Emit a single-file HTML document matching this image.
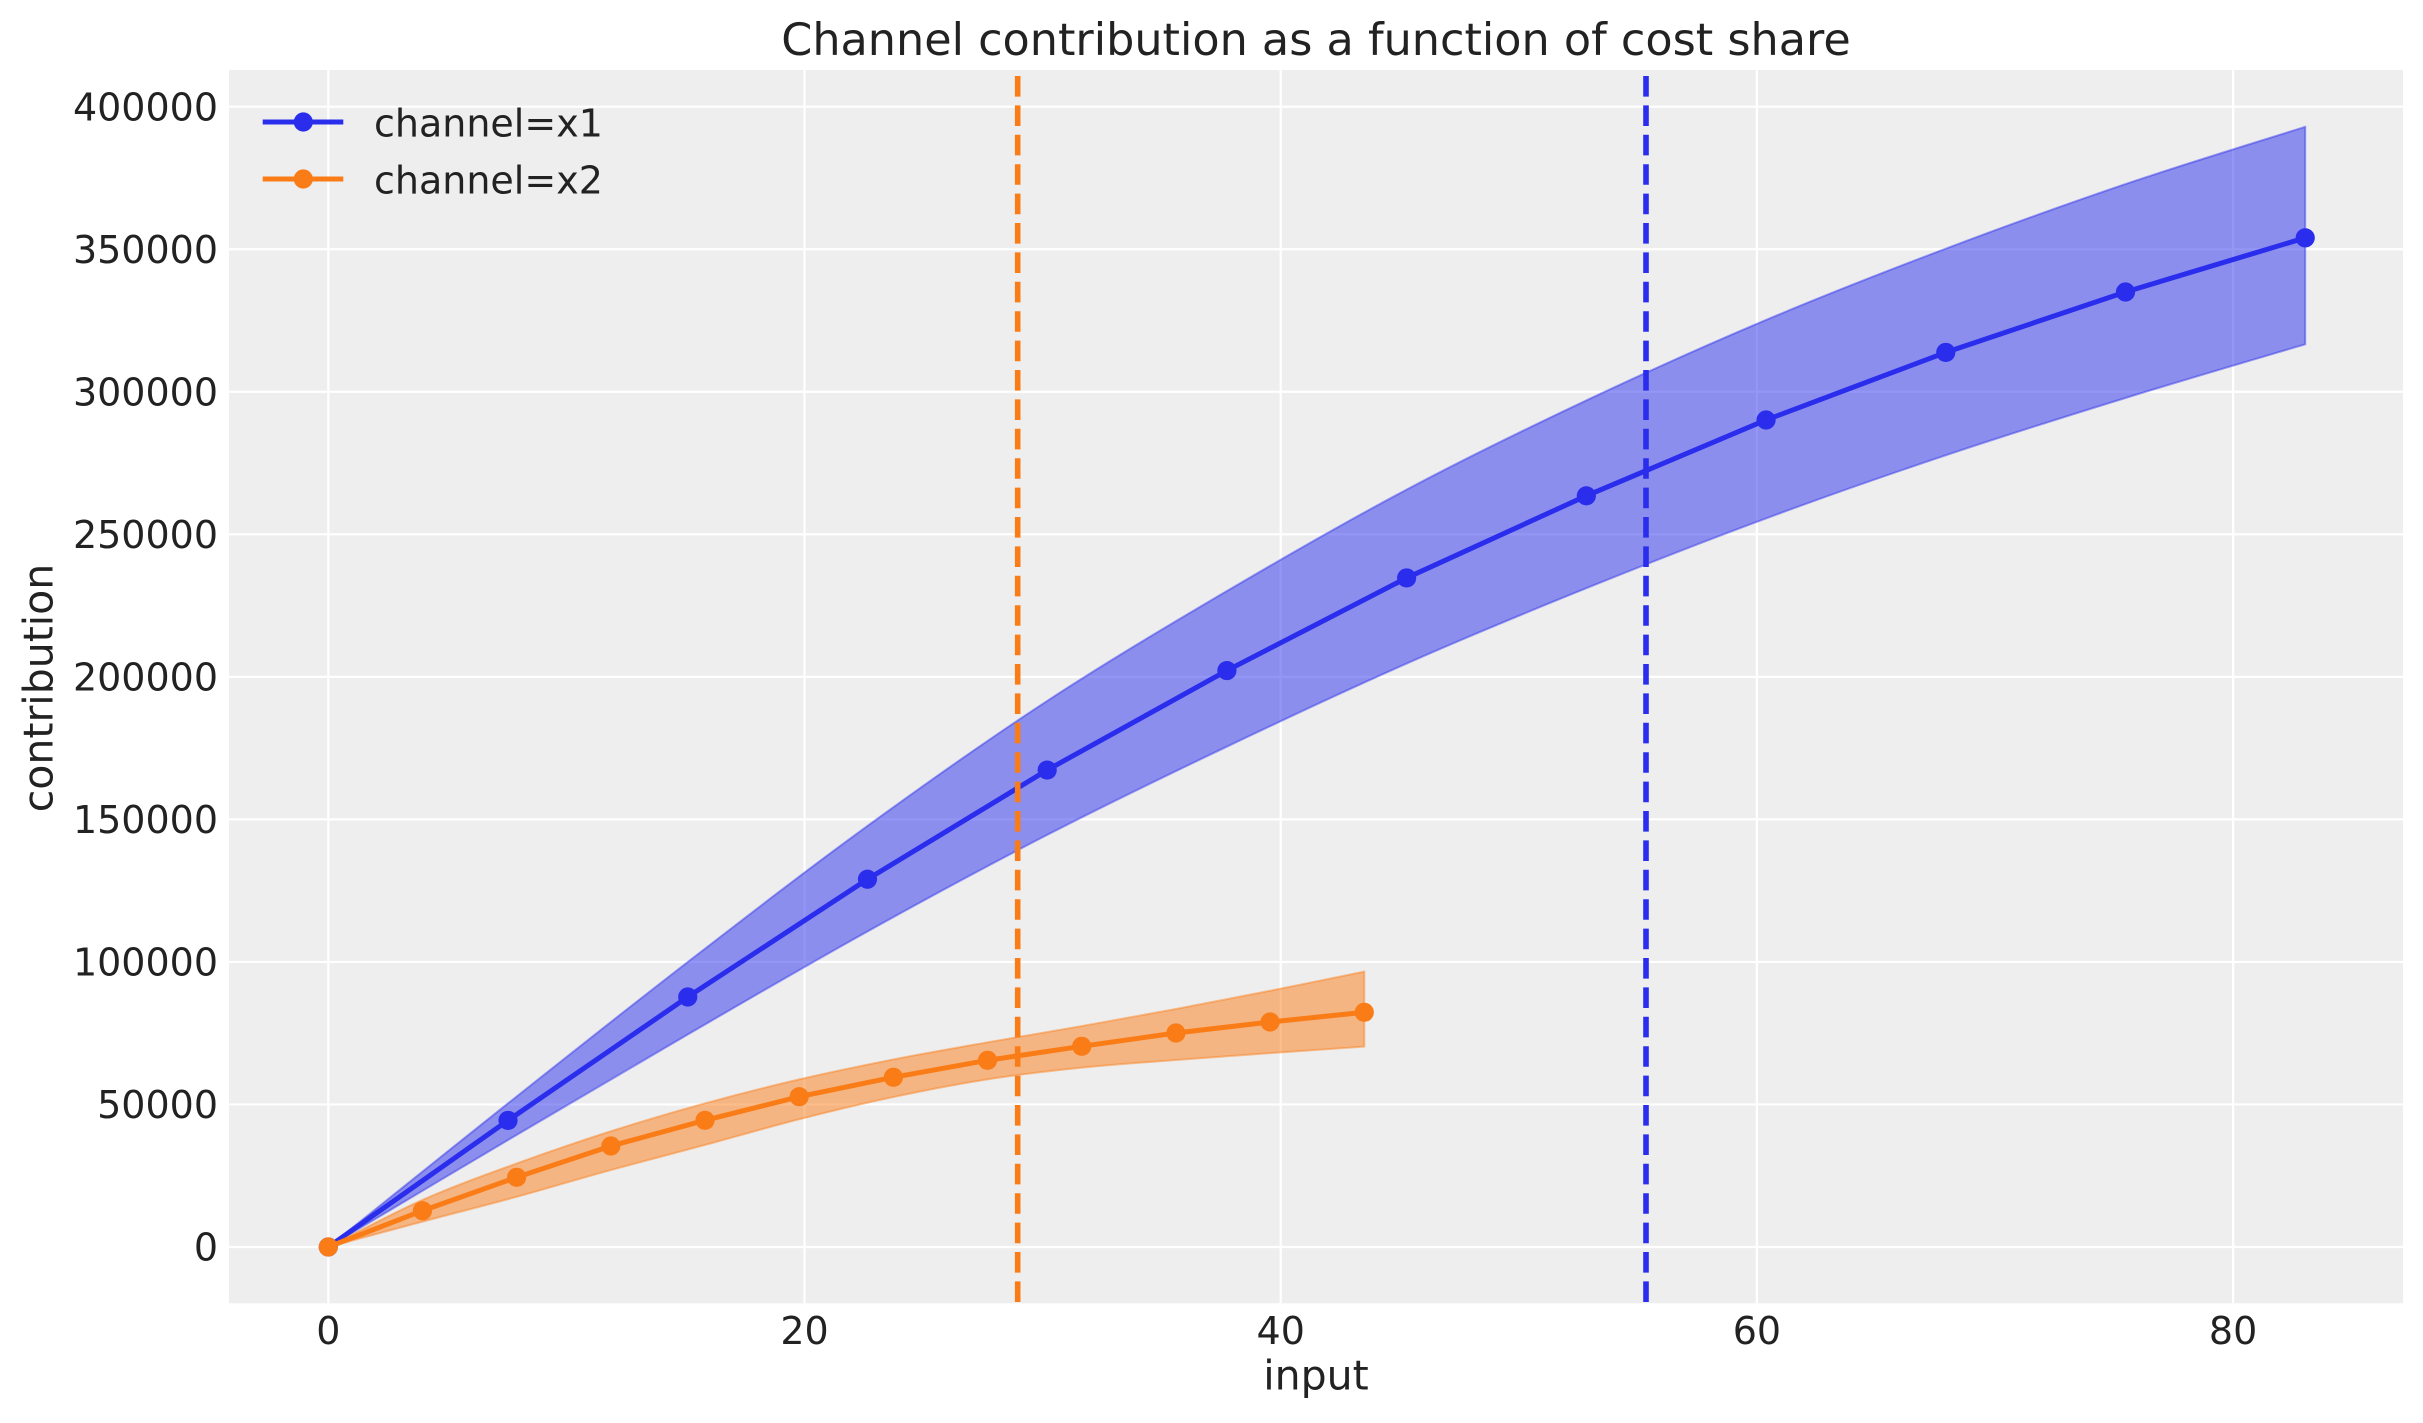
<!DOCTYPE html>
<html>
<head>
<meta charset="utf-8">
<style>
  html,body{margin:0;padding:0;background:#ffffff;}
  svg{display:block;}
  text{font-family:"DejaVu Sans","Liberation Sans",sans-serif;fill:#222222;}
</style>
</head>
<body>
<svg id="chart" xmlns="http://www.w3.org/2000/svg" width="2423" height="1423" viewBox="0 0 2423 1423">
  <rect x="0" y="0" width="2423" height="1423" fill="#ffffff"/>
  <!-- axes background -->
  <rect x="229" y="70" width="2174" height="1233.3" fill="#eeeeee"/>
  <!-- grid -->
  <g stroke="#ffffff" stroke-width="2.2">
    <line x1="328.3" y1="70" x2="328.3" y2="1303.3"/>
    <line x1="804.5" y1="70" x2="804.5" y2="1303.3"/>
    <line x1="1280.7" y1="70" x2="1280.7" y2="1303.3"/>
    <line x1="1756.9" y1="70" x2="1756.9" y2="1303.3"/>
    <line x1="2233.1" y1="70" x2="2233.1" y2="1303.3"/>
    <line x1="229" y1="1247" x2="2403" y2="1247"/>
    <line x1="229" y1="1104.46" x2="2403" y2="1104.46"/>
    <line x1="229" y1="961.92" x2="2403" y2="961.92"/>
    <line x1="229" y1="819.38" x2="2403" y2="819.38"/>
    <line x1="229" y1="676.84" x2="2403" y2="676.84"/>
    <line x1="229" y1="534.3" x2="2403" y2="534.3"/>
    <line x1="229" y1="391.76" x2="2403" y2="391.76"/>
    <line x1="229" y1="249.22" x2="2403" y2="249.22"/>
    <line x1="229" y1="106.68" x2="2403" y2="106.68"/>
  </g>

  <g id="series"></g>

  <!-- vertical dashed lines -->
  <line x1="1017.7" y1="70" x2="1017.7" y2="1303.3" stroke="#fa7c17" stroke-width="5.6" stroke-dasharray="20.6 8.8" stroke-dashoffset="-6"/>
  <line x1="1646" y1="70" x2="1646" y2="1303.3" stroke="#2a2eec" stroke-width="5.6" stroke-dasharray="20.6 8.8" stroke-dashoffset="-6"/>

  <!-- legend -->
  <line x1="262.7" y1="122" x2="343.3" y2="122" stroke="#2a2eec" stroke-width="5"/>
  <circle cx="303.3" cy="122" r="9.6" fill="#2a2eec"/>
  <text x="374" y="136.7" font-size="38">channel=x1</text>
  <line x1="262.7" y1="179" x2="343.3" y2="179" stroke="#fa7c17" stroke-width="5"/>
  <circle cx="303.3" cy="179" r="9.6" fill="#fa7c17"/>
  <text x="374" y="193.7" font-size="38">channel=x2</text>

  <!-- title -->
  <text x="1316" y="55" font-size="44.5" text-anchor="middle">Channel contribution as a function of cost share</text>

  <!-- y tick labels -->
  <g font-size="38" text-anchor="end">
    <text x="218" y="1260.7">0</text>
    <text x="218" y="1118.2">50000</text>
    <text x="218" y="975.6">100000</text>
    <text x="218" y="833.1">150000</text>
    <text x="218" y="690.5">200000</text>
    <text x="218" y="548">250000</text>
    <text x="218" y="405.5">300000</text>
    <text x="218" y="262.9">350000</text>
    <text x="218" y="120.4">400000</text>
  </g>
  <!-- x tick labels -->
  <g font-size="38" text-anchor="middle">
    <text x="328.3" y="1344">0</text>
    <text x="804.5" y="1344">20</text>
    <text x="1280.7" y="1344">40</text>
    <text x="1756.9" y="1344">60</text>
    <text x="2233.1" y="1344">80</text>
  </g>
  <!-- axis labels -->
  <text x="1316" y="1389.5" font-size="41" text-anchor="middle">input</text>
  <text x="0" y="0" font-size="41" text-anchor="middle" transform="translate(52.5,688) rotate(-90)">contribution</text>
</svg>

<script>
(function(){
  var NS = "http://www.w3.org/2000/svg";
  var g = document.getElementById("series");
  var X0 = 328.3, YP = 1247, KPX = 2.8508;
  function Y(k){ return YP - k*KPX; }

  function smooth(pts){
    var n = pts.length, d = "M" + pts[0][0].toFixed(2) + "," + pts[0][1].toFixed(2);
    for (var i=0;i<n-1;i++){
      var p0 = pts[Math.max(i-1,0)], p1 = pts[i], p2 = pts[i+1], p3 = pts[Math.min(i+2,n-1)];
      var c1x = p1[0] + (p2[0]-p0[0])/6, c1y = p1[1] + (p2[1]-p0[1])/6;
      var c2x = p2[0] - (p3[0]-p1[0])/6, c2y = p2[1] - (p3[1]-p1[1])/6;
      d += " C" + c1x.toFixed(2)+","+c1y.toFixed(2)+" "+c2x.toFixed(2)+","+c2y.toFixed(2)+" "+p2[0].toFixed(2)+","+p2[1].toFixed(2);
    }
    return d;
  }
  function smoothCont(pts){
    var d = smooth(pts);
    return d.replace(/^M[^ ]+/, "");
  }
  function el(name, attrs){
    var e = document.createElementNS(NS, name);
    for (var k in attrs) e.setAttribute(k, attrs[k]);
    g.appendChild(e);
    return e;
  }
  function series(step, mean, up, lo, color){
    var n = mean.length, U = [], L = [], M = [];
    for (var i=0;i<n;i++){
      var x = X0 + i*step;
      U.push([x, Y(up[i])]);
      L.push([x, Y(lo[i])]);
      M.push([x, Y(mean[i])]);
    }
    var Lr = L.slice().reverse();
    var d = smooth(U) + " L" + Lr[0][0].toFixed(2) + "," + Lr[0][1].toFixed(2) + smoothCont(Lr) + " Z";
    el("path", {d:d, fill:color, "fill-opacity":"0.5", stroke:color, "stroke-opacity":"0.45", "stroke-width":"2"});
    var pl = M.map(function(p){return p[0].toFixed(2)+","+p[1].toFixed(2);}).join(" ");
    el("polyline", {points:pl, fill:"none", stroke:color, "stroke-width":"5", "stroke-linejoin":"round"});
    M.forEach(function(p){ el("circle", {cx:p[0].toFixed(2), cy:p[1].toFixed(2), r:"9.6", fill:color}); });
  }

  // Blue channel x1
  var bm = [0, 44.4, 87.7, 129.0, 167.3, 202.2, 234.7, 263.5, 290.1, 313.8, 335.0, 354.0];
  var buf = [1, 1.135, 1.14, 1.145, 1.145, 1.138, 1.132, 1.127, 1.121, 1.116, 1.113, 1.11];
  var blf = [1, 0.845, 0.85, 0.858, 0.864, 0.868, 0.872, 0.877, 0.881, 0.885, 0.889, 0.8945];
  var bu = bm.map(function(v,i){return v*buf[i];});
  var bl = bm.map(function(v,i){return v*blf[i];});
  series(179.72, bm, bu, bl, "#2a2eec");

  // Orange channel x2
  var om = [0, 12.73, 24.45, 35.43, 44.44, 52.72, 59.53, 65.49, 70.40, 75.07, 78.92, 82.33];
  var ou = [0, 16.5, 29.3, 40.6, 50.4, 58.8, 65.8, 71.8, 77.5, 83.5, 89.9, 96.6];
  var ol = [0, 8.9, 17.6, 27.0, 35.8, 44.8, 52.6, 58.8, 62.9, 65.6, 68.0, 70.3];
  series(94.18, om, ou, ol, "#fa7c17");
})();
</script>
</body>
</html>
